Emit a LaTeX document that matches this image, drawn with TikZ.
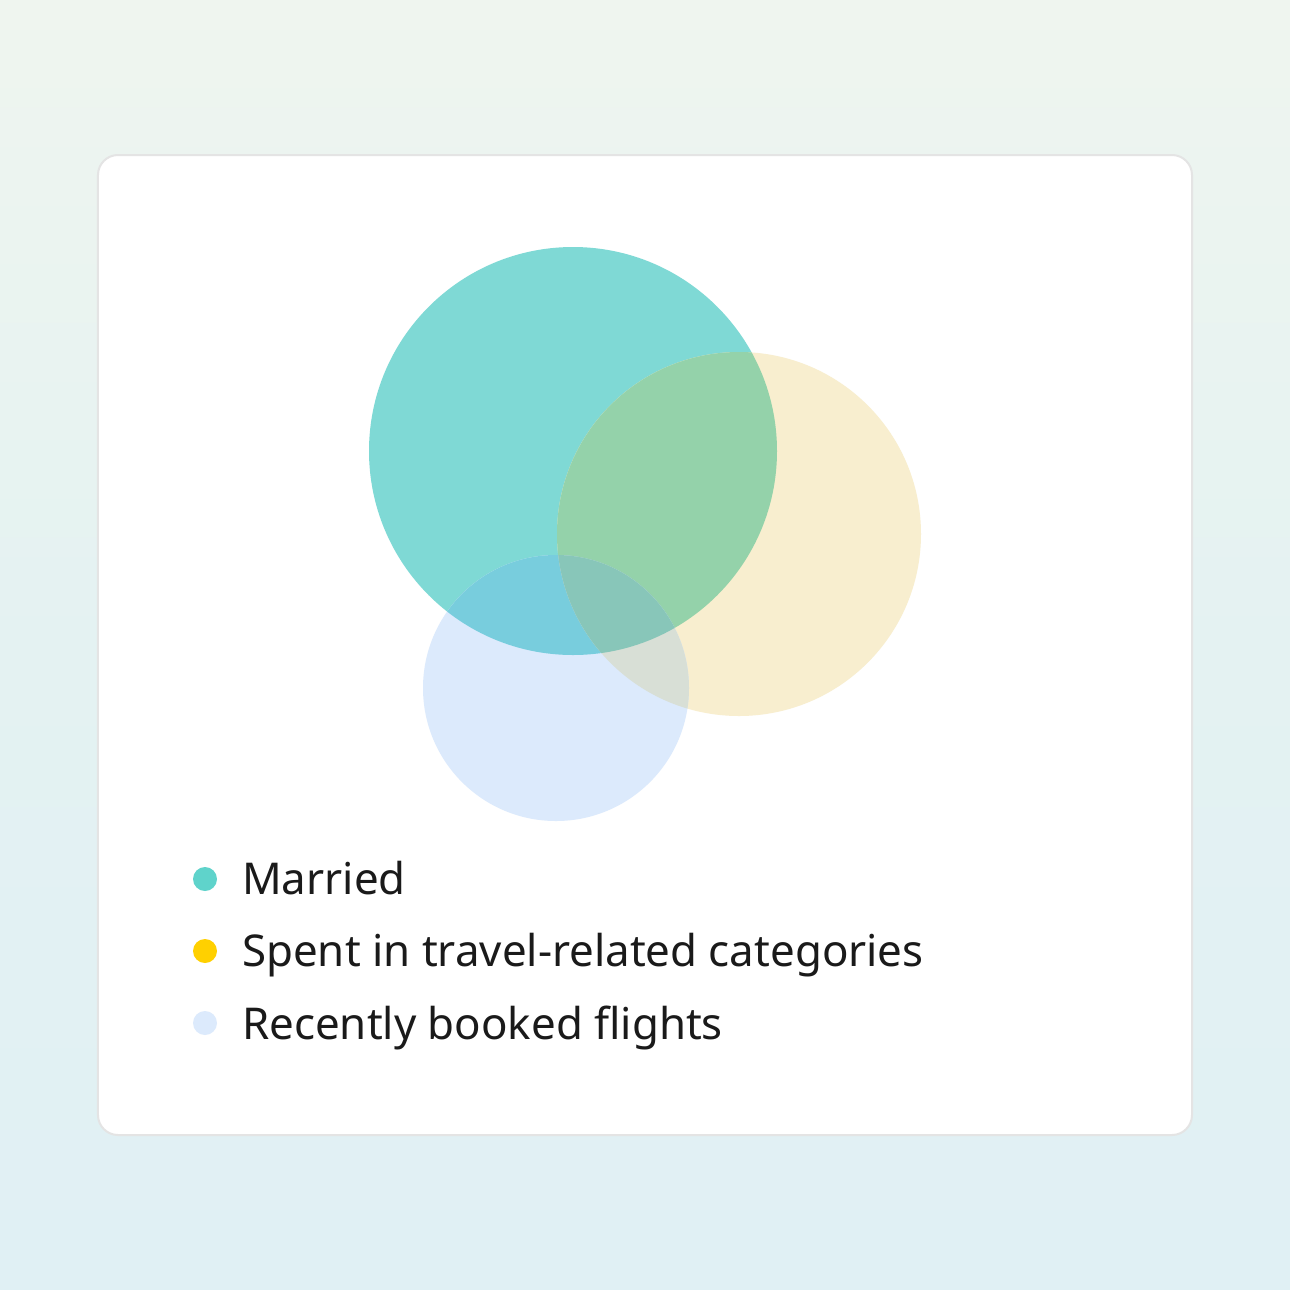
\documentclass[tikz,border=0pt]{standalone}
\usepackage{fontspec}
\setmainfont{Noto Sans}
\definecolor{bgtop}{HTML}{EFF5EF}
\definecolor{bgmid}{HTML}{E4F2F2}
\definecolor{bgbot}{HTML}{E0F0F4}
\definecolor{cardline}{HTML}{E4E4E4}
\definecolor{tealc}{HTML}{7FD9D5}
\definecolor{yelc}{HTML}{F8EECF}
\definecolor{bluec}{HTML}{DCEAFC}
\definecolor{ty}{HTML}{94D2AA}
\definecolor{tb}{HTML}{78CDDD}
\definecolor{yb}{HTML}{D8DFD6}
\definecolor{tyb}{HTML}{88C6B9}
\definecolor{dotteal}{HTML}{5FD3CB}
\definecolor{dotyel}{HTML}{FFD000}
\definecolor{dotblue}{HTML}{DCEAFC}
\definecolor{txt}{HTML}{1A1A1A}
\tikzset{
  legdot/.style={circle, inner sep=0pt, minimum size=24bp},
  legtxt/.style={anchor=base west, inner sep=0pt, text=txt, font=\fontsize{44}{50}\selectfont},
}
\begin{document}
\begin{tikzpicture}[x=1bp,y=-1bp]
\useasboundingbox (0,0) rectangle (1290,1290);
\shade[top color=bgtop, bottom color=bgbot, middle color=bgmid] (0,0) rectangle (1290,1290);
\node[draw=cardline, line width=2bp, fill=white, rounded corners=20bp, minimum width=1094bp, minimum height=980bp, inner sep=0pt] (card) at (645,645) {};
% circles
\fill[tealc] (573,451) circle[radius=204bp];
\fill[yelc] (739,534) circle[radius=182bp];
\fill[bluec] (556,688) circle[radius=133bp];
\begin{scope}
  \clip (573,451) circle[radius=204bp];
  \fill[ty] (739,534) circle[radius=182bp];
  \fill[tb] (556,688) circle[radius=133bp];
\end{scope}
\begin{scope}
  \clip (739,534) circle[radius=182bp];
  \fill[yb] (556,688) circle[radius=133bp];
  \clip (573,451) circle[radius=204bp];
  \fill[tyb] (556,688) circle[radius=133bp];
\end{scope}
\node[circle, minimum size=408bp, inner sep=0pt] (married) at (573,451) {};
\node[circle, minimum size=364bp, inner sep=0pt] (spent) at (739,534) {};
\node[circle, minimum size=266bp, inner sep=0pt] (recent) at (556,688) {};
% legend
\node[legdot, fill=dotteal] (d1) at (205,879) {};
\node[legdot, fill=dotyel] (d2) at (205,951) {};
\node[legdot, fill=dotblue] (d3) at (205,1023) {};
\node[legtxt] (t1) at (242,894) {Married};
\node[legtxt] (t2) at (242,966) {Spent in travel-related categories};
\node[legtxt] (t3) at (242,1039) {Recently booked flights};
\end{tikzpicture}
\end{document}
